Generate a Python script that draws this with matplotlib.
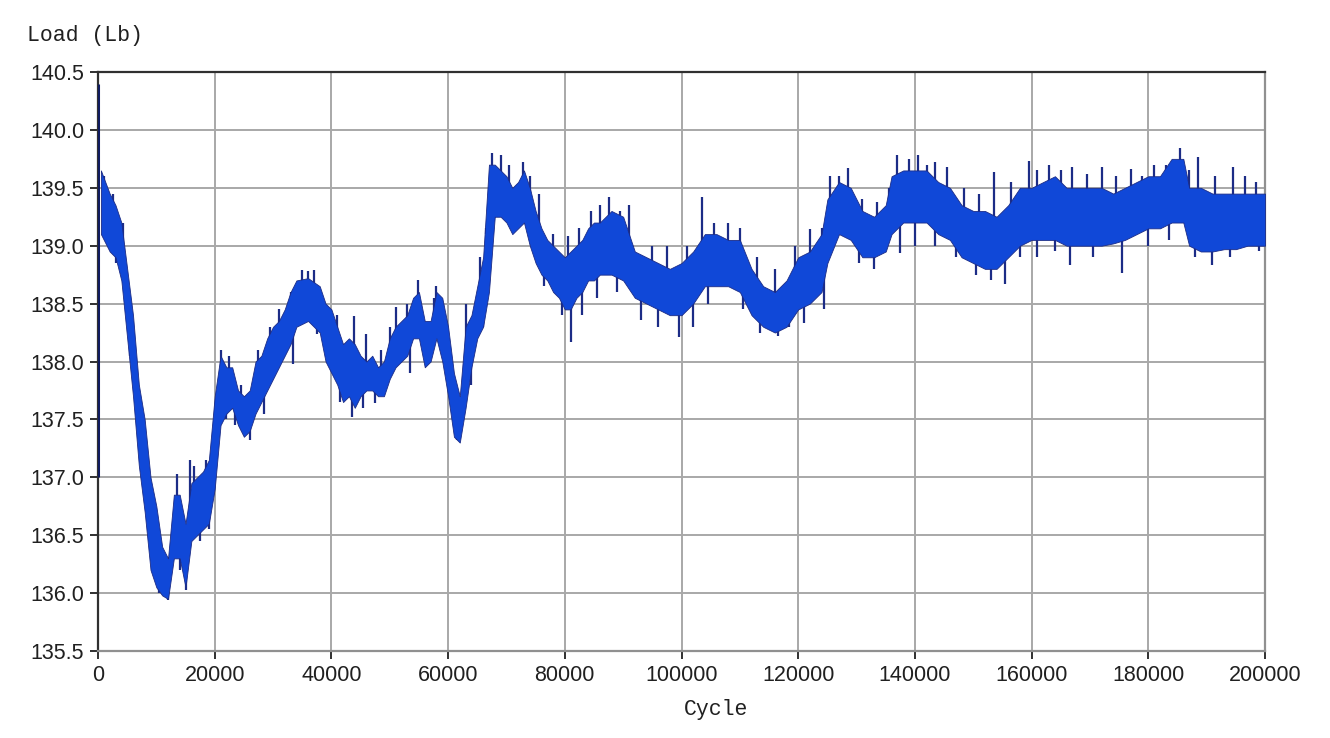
import matplotlib.pyplot as plt

# Data: envelope of the load band (cycle, upper, lower)
cycles = [500, 2000, 3000, 4000, 5000, 6000, 7000, 8000, 9000, 10000,
          11000, 12000, 13000, 14000, 15000, 16000, 17000, 18000, 19000, 20000,
          21000, 22000, 23000, 24000, 25000, 26000, 27000, 28000, 29000, 30000,
          31000, 32000, 33000, 34000, 36000, 38000, 39000, 40000, 41000, 42000,
          43000, 44000, 45000, 46000, 47000, 48000, 49000, 50000, 51000, 52000,
          53000, 54000, 55000, 56000, 57000, 58000, 59000, 60000, 61000, 62000,
          63000, 64000, 65000, 66000, 67000, 68000, 69000, 70000, 71000, 72000,
          73000, 74000, 75000, 76000, 77000, 78000, 79000, 80000, 81000, 82000,
          83000, 84000, 85000, 86000, 88000, 90000, 92000, 94000, 96000, 98000,
          100000, 102000, 104000, 106000, 108000, 110000, 112000, 114000, 116000, 118000,
          120000, 122000, 124000, 125000, 127000, 129000, 131000, 133000, 135000, 136000,
          138000, 140000, 142000, 144000, 146000, 148000, 150000, 152000, 154000, 156000,
          158000, 160000, 162000, 164000, 166000, 168000, 170000, 172000, 174000, 176000,
          178000, 180000, 182000, 184000, 186000, 187000, 189000, 191000, 193000, 195000,
          197000, 200000]
upper = [139.65, 139.45, 139.35, 139.2, 138.8, 138.4, 137.8, 137.5, 137.0, 136.75,
         136.4, 136.3, 136.85, 136.85, 136.6, 136.95, 137.0, 137.05, 137.15, 137.7,
         138.05, 137.95, 137.95, 137.75, 137.7, 137.75, 138.0, 138.05, 138.2, 138.3,
         138.35, 138.45, 138.6, 138.7, 138.72, 138.65, 138.5, 138.45, 138.3, 138.15,
         138.2, 138.15, 138.05, 138.0, 138.05, 137.95, 138.0, 138.2, 138.3, 138.35,
         138.4, 138.55, 138.6, 138.35, 138.35, 138.6, 138.55, 138.3, 137.9, 137.7,
         138.3, 138.4, 138.65, 138.9, 139.7, 139.7, 139.65, 139.6, 139.5, 139.55,
         139.65, 139.5, 139.3, 139.15, 139.05, 139.0, 138.95, 138.9, 138.95, 139.0,
         139.05, 139.15, 139.2, 139.2, 139.3, 139.25, 138.95, 138.9, 138.85, 138.8,
         138.85, 138.95, 139.1, 139.1, 139.05, 139.05, 138.8, 138.65, 138.6, 138.7,
         138.9, 138.95, 139.1, 139.4, 139.55, 139.5, 139.3, 139.25, 139.35, 139.6,
         139.65, 139.65, 139.65, 139.55, 139.5, 139.35, 139.3, 139.3, 139.25, 139.35,
         139.5, 139.5, 139.55, 139.6, 139.5, 139.5, 139.5, 139.5, 139.45, 139.5,
         139.55, 139.6, 139.6, 139.75, 139.75, 139.5, 139.5, 139.45, 139.45, 139.45,
         139.45, 139.45]
lower = [139.1, 138.95, 138.9, 138.7, 138.2, 137.7, 137.1, 136.7, 136.2, 136.05,
         135.98, 135.95, 136.3, 136.3, 136.05, 136.45, 136.5, 136.55, 136.6, 136.9,
         137.45, 137.55, 137.6, 137.45, 137.35, 137.4, 137.55, 137.65, 137.75, 137.85,
         137.95, 138.05, 138.15, 138.3, 138.35, 138.25, 138.0, 137.9, 137.8, 137.65,
         137.7, 137.6, 137.7, 137.75, 137.75, 137.7, 137.7, 137.85, 137.95, 138.0,
         138.05, 138.2, 138.2, 137.95, 138.0, 138.2, 138.0, 137.7, 137.35, 137.3,
         137.6, 137.95, 138.2, 138.3, 138.6, 139.25, 139.25, 139.2, 139.1, 139.15,
         139.2, 139.0, 138.85, 138.75, 138.7, 138.6, 138.55, 138.45, 138.45, 138.55,
         138.6, 138.7, 138.7, 138.75, 138.75, 138.7, 138.55, 138.5, 138.45, 138.4,
         138.4, 138.5, 138.65, 138.65, 138.65, 138.6, 138.4, 138.3, 138.25, 138.3,
         138.45, 138.5, 138.6, 138.85, 139.1, 139.05, 138.9, 138.9, 138.95, 139.1,
         139.2, 139.2, 139.2, 139.1, 139.05, 138.9, 138.85, 138.8, 138.8, 138.9,
         139.0, 139.05, 139.05, 139.05, 139.0, 139.0, 139.0, 139.0, 139.02, 139.05,
         139.1, 139.15, 139.15, 139.2, 139.2, 139.0, 138.95, 138.95, 138.97, 138.97,
         139.0, 139.0]

# initial transient at cycle 0
start_min = 137.0
start_max = 140.4

# isolated noise spikes (cycle, tip value)
spike_up_c = [1000, 2500, 4200, 6000, 9500, 13500, 15800, 16500, 18500, 19500,
              21000, 22500, 24500, 27500, 29500, 31000, 33000, 35000, 36000, 37000,
              41000, 43800, 46000, 48500, 50000, 51000, 53000, 54800, 57500, 58000,
              63000, 65500, 66500, 67500, 69000, 70500, 72800, 74000, 75500, 78000,
              80500, 82500, 84500, 86000, 87500, 89500, 91000, 95000, 97500, 101000,
              103500, 105500, 108000, 110000, 113000, 116000, 119500, 122000, 124000, 125500,
              127000, 128500, 131000, 133500, 135500, 137000, 139000, 140500, 142000, 143500,
              145500, 148500, 151000, 153500, 156500, 159500, 161000, 163000, 165000, 167000,
              169500, 172000, 174500, 177000, 179000, 181000, 183000, 185500, 187000, 188500,
              191500, 194500, 196500, 198500]
spike_up_v = [139.6, 139.45, 139.2, 138.3, 136.85, 137.03, 137.15, 137.1, 137.15, 137.3,
              138.1, 138.05, 137.8, 138.1, 138.3, 138.45, 138.6, 138.79, 138.78, 138.79,
              138.4, 138.39, 138.24, 138.1, 138.3, 138.47, 138.5, 138.7, 138.55, 138.65,
              138.5, 138.9, 139.1, 139.8, 139.78, 139.7, 139.72, 139.6, 139.45, 139.1,
              139.08, 139.15, 139.3, 139.35, 139.42, 139.3, 139.35, 139.0, 139.0, 139.0,
              139.42, 139.2, 139.2, 139.15, 138.9, 138.8, 139.0, 139.14, 139.15, 139.6,
              139.6, 139.67, 139.4, 139.38, 139.5, 139.78, 139.75, 139.78, 139.7, 139.72,
              139.68, 139.5, 139.45, 139.64, 139.55, 139.73, 139.65, 139.7, 139.65, 139.68,
              139.62, 139.68, 139.6, 139.66, 139.6, 139.7, 139.7, 139.84, 139.65, 139.77,
              139.6, 139.68, 139.6, 139.55]
spike_dn_c = [3000, 5500, 7500, 10500, 12000, 14000, 15000, 17500, 19000, 22000,
              23500, 26000, 28500, 33500, 37500, 41500, 43500, 45500, 47500, 53500,
              55500, 59500, 61500, 64000, 66000, 76500, 79500, 81000, 83000, 85500,
              89000, 93000, 96000, 99500, 102000, 104500, 110500, 113500, 116500, 118500,
              121000, 124500, 130500, 133000, 137500, 140000, 143500, 147000, 150500, 153000,
              155500, 158000, 161000, 164000, 166500, 170500, 175500, 180000, 183500, 188000,
              191000, 194000, 199000]
spike_dn_v = [138.85, 138.2, 137.05, 136.0, 135.94, 136.2, 136.03, 136.45, 136.55, 137.5,
              137.45, 137.32, 137.55, 137.98, 138.24, 137.65, 137.52, 137.6, 137.64, 137.9,
              138.13, 138.0, 137.32, 137.8, 138.3, 138.65, 138.4, 138.17, 138.4, 138.55,
              138.6, 138.36, 138.3, 138.21, 138.3, 138.5, 138.45, 138.25, 138.22, 138.3,
              138.33, 138.45, 138.85, 138.8, 138.94, 139.0, 139.0, 138.9, 138.75, 138.7,
              138.67, 138.9, 138.9, 138.95, 138.83, 138.9, 138.76, 139.0, 139.05, 138.9,
              138.83, 138.9, 138.95]

band_color = '#1048d8'
edge_color = '#1c2c86'

fig = plt.figure(figsize=(13.3, 7.38), dpi=100)
ax = fig.add_axes([98 / 1330, 87 / 738, 1167 / 1330, 579 / 738])

ax.fill_between(cycles, lower, upper, color=band_color,
                edgecolor=edge_color, linewidth=0.6, zorder=3)

# spikes start from the middle of the band
mid = [(u + l) / 2 for u, l in zip(upper, lower)]
def band_mid(c):
    for i in range(len(cycles) - 1):
        if cycles[i] <= c <= cycles[i + 1]:
            return mid[i] if c - cycles[i] < cycles[i + 1] - c else mid[i + 1]
    return mid[-1]

ax.vlines(spike_up_c, [band_mid(c) for c in spike_up_c], spike_up_v,
          color=edge_color, linewidth=1.6, zorder=2.5)
ax.vlines(spike_dn_c, spike_dn_v, [band_mid(c) for c in spike_dn_c],
          color=edge_color, linewidth=1.6, zorder=2.5)
ax.vlines([0], start_min, start_max, color='#101c60', linewidth=2.2, zorder=4)

ax.set_xlim(0, 200000)
ax.set_ylim(135.5, 140.5)
ax.set_xticks(range(0, 200001, 20000))
ax.set_yticks([135.5, 136.0, 136.5, 137.0, 137.5, 138.0, 138.5, 139.0, 139.5, 140.0, 140.5])
ax.set_yticklabels(['135.5', '136.0', '136.5', '137.0', '137.5', '138.0', '138.5',
                    '139.0', '139.5', '140.0', '140.5'])
ax.grid(True, color='#a8a8a8', linewidth=1.4, zorder=1)
ax.set_axisbelow(True)

ax.tick_params(direction='out', length=6, width=1.4, color='#303030',
               labelsize=15.5, labelcolor='#202020', pad=4)
for lab in ax.get_xticklabels() + ax.get_yticklabels():
    lab.set_family('Liberation Sans')

ax.spines['left'].set_color('#303030')
ax.spines['top'].set_color('#303030')
ax.spines['right'].set_color('#909090')
ax.spines['bottom'].set_color('#909090')
for s in ax.spines.values():
    s.set_linewidth(1.6)

fig.text(27 / 1330, 1 - 36 / 738, 'Load (Lb)', family='Liberation Mono',
         fontsize=15.5, color='#202020', va='center', ha='left')
fig.text(716 / 1330, 1 - 709 / 738, 'Cycle', family='Liberation Mono',
         fontsize=15.5, color='#202020', va='center', ha='center')

fig.savefig('out.png', dpi=100, facecolor='white')
